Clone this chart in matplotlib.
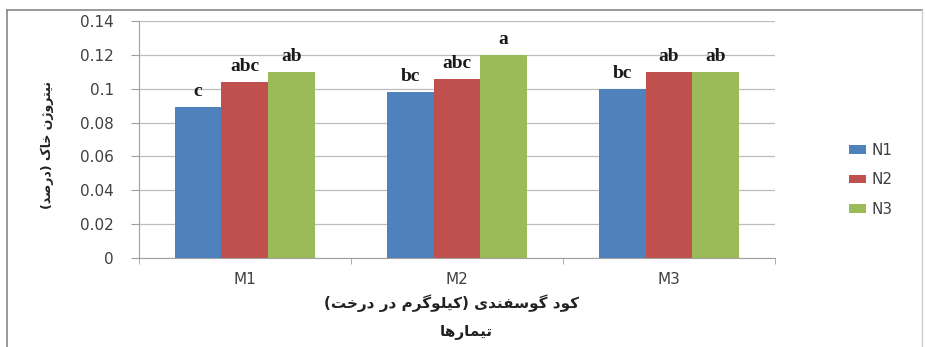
import numpy as np
import matplotlib.pyplot as plt
from matplotlib.lines import Line2D

groups = ['M1', 'M2', 'M3']
series = ['N1', 'N2', 'N3']
n1 = [0.089, 0.098, 0.100]
n2 = [0.104, 0.106, 0.110]
n3 = [0.110, 0.120, 0.110]
letters = [['c', 'bc', 'bc'], ['abc', 'abc', 'ab'], ['ab', 'a', 'ab']]
colors = ['#4F81BD', '#C0504D', '#9BBB59']

y_label = 'نیتروژن خاک (درصد)'
x_label1 = 'کود گوسفندی (کیلوگرم در درخت)'
x_label2 = 'تیمارها'

# contextual forms: (isolated, final, initial, medial); None = joins on right only
FORMS = {
    'ا': ('\uFE8D', '\uFE8E', None, None),
    'ت': ('\uFE95', '\uFE96', '\uFE97', '\uFE98'),
    'خ': ('\uFEA5', '\uFEA6', '\uFEA7', '\uFEA8'),
    'د': ('\uFEA9', '\uFEAA', None, None),
    'ر': ('\uFEAD', '\uFEAE', None, None),
    'ژ': ('\uFB8A', '\uFB8B', None, None),
    'س': ('\uFEB1', '\uFEB2', '\uFEB3', '\uFEB4'),
    'ص': ('\uFEB9', '\uFEBA', '\uFEBB', '\uFEBC'),
    'ف': ('\uFED1', '\uFED2', '\uFED3', '\uFED4'),
    'ک': ('\uFB8E', '\uFB8F', '\uFB90', '\uFB91'),
    'گ': ('\uFB92', '\uFB93', '\uFB94', '\uFB95'),
    'ل': ('\uFEDD', '\uFEDE', '\uFEDF', '\uFEE0'),
    'م': ('\uFEE1', '\uFEE2', '\uFEE3', '\uFEE4'),
    'ن': ('\uFEE5', '\uFEE6', '\uFEE7', '\uFEE8'),
    'ه': ('\uFEE9', '\uFEEA', '\uFEEB', '\uFEEC'),
    'و': ('\uFEED', '\uFEEE', None, None),
    'ی': ('\uFBFC', '\uFBFD', '\uFBFE', '\uFBFF'),
}


def fa(text):
    out = []
    for i, ch in enumerate(text):
        if ch not in FORMS:
            out.append(ch)
            continue
        prev = text[i - 1] if i > 0 else ''
        nxt = text[i + 1] if i + 1 < len(text) else ''
        join_prev = prev in FORMS and FORMS[prev][2] is not None
        join_next = nxt in FORMS and FORMS[ch][2] is not None
        f = FORMS[ch]
        if join_prev and join_next:
            out.append(f[3])
        elif join_next:
            out.append(f[2])
        elif join_prev:
            out.append(f[1])
        else:
            out.append(f[0])
    vis = ''.join(reversed(out))
    return vis.translate(str.maketrans('()', ')('))


plt.rcParams['font.family'] = ['DejaVu Sans']

fig = plt.figure(figsize=(9.25, 3.47), dpi=100)
ax = fig.add_axes([0.150, 0.2565, 0.688, 0.683])

x = np.arange(len(groups))
w = 0.22
for j, (vals, c, name) in enumerate(zip([n1, n2, n3], colors, series)):
    pos = x + (j - 1) * w
    ax.bar(pos, vals, w, color=c, label=name, zorder=3)
    for k, v in enumerate(vals):
        ax.text(pos[k], v + 0.0065, letters[j][k], ha='center', va='baseline',
                fontsize=14, fontweight='bold', family='Liberation Serif',
                color='#1a1a1a', zorder=4)

ax.set_xlim(-0.5, 2.5)
ax.set_ylim(0, 0.14)
ax.set_yticks(np.arange(0, 0.141, 0.02))
ax.set_yticklabels(['0', '0.02', '0.04', '0.06', '0.08', '0.1', '0.12', '0.14'])
ax.set_xticks(x)
ax.set_xticklabels(groups)
ax.set_xticks([-0.5, 0.5, 1.5, 2.5], minor=True)
ax.tick_params(axis='x', which='major', length=0, pad=10, labelsize=11, labelcolor='#404040')
ax.tick_params(axis='x', which='minor', length=4, color='#a0a0a0')
ax.tick_params(axis='y', length=6, color='#a0a0a0', labelsize=11, labelcolor='#404040', pad=12)
ax.grid(axis='y', color='#bdbdbd', lw=0.9, zorder=0)
for s in ['top', 'right']:
    ax.spines[s].set_visible(False)
for s in ['left', 'bottom']:
    ax.spines[s].set_color('#a0a0a0')

fig.text(47 / 925, 1 - 145 / 347, fa(y_label), rotation=90, ha='center', va='center',
         fontsize=9, fontweight='bold', color='#222222')
fig.text(452 / 925, 1 - 303 / 347, fa(x_label1), ha='center', va='center',
         fontsize=11, fontweight='bold', color='#222222')
fig.text(466 / 925, 1 - 333 / 347, fa(x_label2), ha='center', va='center',
         fontsize=11, fontweight='bold', color='#222222')

fig.legend(loc='center left', bbox_to_anchor=(835 / 925, 1 - 180 / 347), frameon=False,
           fontsize=11, handlelength=1.1, handleheight=0.45, labelspacing=0.95,
           handletextpad=0.4, labelcolor='#404040')

# chart frame
fig.add_artist(Line2D([7 / 925, 922 / 925], [1 - 10 / 347] * 2, transform=fig.transFigure, color='#888888', lw=1.2))
fig.add_artist(Line2D([7 / 925] * 2, [0, 1 - 10 / 347], transform=fig.transFigure, color='#888888', lw=1.2))
fig.add_artist(Line2D([922 / 925] * 2, [0, 1 - 10 / 347], transform=fig.transFigure, color='#cccccc', lw=1.0))

fig.savefig('out.png', dpi=100)
